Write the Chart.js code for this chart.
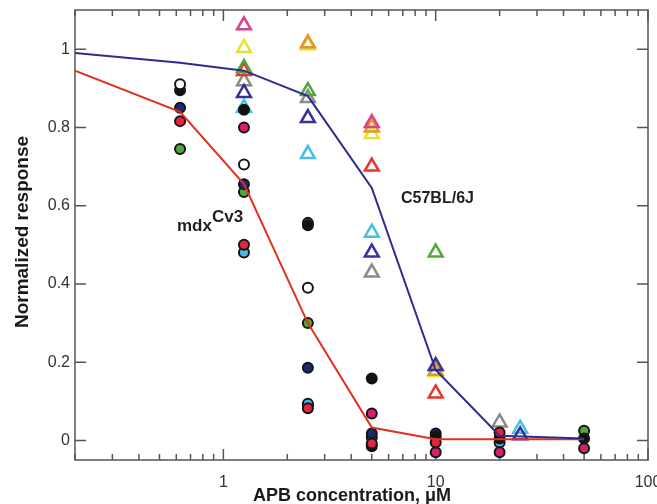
<!DOCTYPE html>
<html>
<head>
<meta charset="utf-8">
<script src="https://cdn.jsdelivr.net/npm/chart.js@4/dist/chart.umd.min.js"></script>
<style>
html,body{margin:0;padding:0;background:#fff;}
#wrap{width:657px;height:504px;position:relative;}
</style>
</head>
<body>
<div id="wrap"><canvas id="c" width="657" height="504"></canvas></div>
<script>
// ---- data ----
const circleConc = [0.625, 1.25, 2.5, 5, 10, 20, 50];   // mdxCv3 (circles), µM
const mdxOpen    = [0.91, 0.705, 0.39, null, null, null, null];
const mdxBlackA  = [0.895, 0.845, 0.55, 0.158, 0.01, 0.005, 0.005];
const mdxBlackB  = [null, null, 0.09, -0.015, null, null, null];
const mdxNavy    = [0.85, 0.655, 0.186, 0.018, 0.018, null, null];
const mdxRed     = [0.816, 0.50, 0.082, -0.008, -0.005, 0.02, null];
const mdxMagenta = [null, 0.80, 0.556, 0.069, -0.03, -0.03, -0.02];
const mdxGreen   = [0.745, 0.635, 0.30, null, null, null, 0.025];
const mdxCyan    = [null, 0.48, 0.094, 0.008, null, -0.005, null];

const triConc    = [1.25, 2.5, 5, 10, 20, 25];           // C57BL/6J (triangles), µM
const c57Magenta = [1.061, null, 0.811, null, null, null];
const c57Yellow  = [1.003, 1.01, 0.783, 0.175, null, null];
const c57Orange  = [null, 1.015, 0.80, 0.178, null, null];
const c57Green   = [0.952, 0.893, null, 0.48, null, null];
const c57Red     = [0.944, null, 0.70, 0.12, null, null];
const c57Gray    = [0.918, 0.875, 0.429, null, 0.046, null];
const c57Navy    = [0.888, 0.824, 0.48, 0.19, null, 0.013];
const c57Cyan    = [0.85, 0.732, 0.531, null, null, 0.03];

const fitConc  = [0.2, 0.625, 1.25, 2.5, 5, 10, 20, 50];
const fitC57   = [0.99, 0.965, 0.945, 0.88, 0.645, 0.18, 0.012, 0.005];
const fitMdx   = [0.945, 0.84, 0.655, 0.30, 0.033, 0.003, 0.003, 0.003];

const xTickValues = [1, 10, 100];
const xTickLabels = ['1', '10', '100'];
const yTickValues = [0, 0.2, 0.4, 0.6, 0.8, 1];
const yTickLabels = ['0', '0.2', '0.4', '0.6', '0.8', '1'];
const xMinorTicks = [0.2,0.3,0.4,0.5,0.6,0.7,0.8,0.9,2,3,4,5,6,7,8,9,20,30,40,50,60,70,80,90];

const xTitle = 'APB concentration, \u03bcM';
const yTitle = 'Normalized response';

// ---- build datasets ----
function pts(xs, ys){ const out=[]; xs.forEach((x,i)=>{ if(ys[i]!==null) out.push({x:x,y:ys[i]}); }); return out; }
function circ(ys, fill){
  return {type:'scatter', data:pts(circleConc, ys), pointStyle:'circle', pointRadius:5, pointHoverRadius:5,
    backgroundColor:fill, borderColor:'#151515', pointBorderWidth:2, borderWidth:2, showLine:false};
}
function tri(ys, col){
  return {type:'scatter', data:pts(triConc, ys), pointStyle:'triangle', pointRadius:8, pointHoverRadius:8,
    backgroundColor:'rgba(0,0,0,0)', borderColor:col, pointBorderWidth:2.5, borderWidth:2.5, showLine:false};
}
function fit(ys, col){
  return {type:'line', data:pts(fitConc, ys), borderColor:col, borderWidth:2, pointRadius:0, fill:false, tension:0};
}

const datasets = [
  fit(fitC57, '#2d2d8f'),
  fit(fitMdx, '#e2301f'),
  circ(mdxOpen, '#ffffff'),
  circ(mdxRed, '#e3263c'),
  circ(mdxBlackA, '#111111'),
  circ(mdxNavy, '#1e2a6e'),
  circ(mdxMagenta, '#d81f6c'),
  circ(mdxGreen, '#4ea93a'),
  circ(mdxCyan, '#46bde9'),
  circ(mdxBlackB, '#111111'),
  tri(c57Navy, '#34339c'),
  tri(c57Magenta, '#d8448c'),
  tri(c57Green, '#52a83a'),
  tri(c57Red, '#e8352a'),
  tri(c57Gray, '#8a8a8a'),
  tri(c57Orange, '#e8922a'),
  tri(c57Yellow, '#e3e32c'),
  tri(c57Cyan, '#47bde8')
];

const FONT = '"Liberation Sans", Arial, Helvetica, sans-serif';

const framePlugin = {
  id:'frame',
  beforeDatasetsDraw(chart){
    const ctx = chart.ctx, a = chart.chartArea, xs = chart.scales.x, ys = chart.scales.y;
    ctx.save();
    ctx.strokeStyle = '#555';
    ctx.lineWidth = 1.5;
    ctx.strokeRect(a.left, a.top, a.right - a.left, a.bottom - a.top);
    ctx.beginPath();
    xMinorTicks.forEach(v=>{
      const px = xs.getPixelForValue(v);
      ctx.moveTo(px, a.bottom); ctx.lineTo(px, a.bottom - 6);
      ctx.moveTo(px, a.top); ctx.lineTo(px, a.top + 6);
    });
    xTickValues.forEach(v=>{
      const px = xs.getPixelForValue(v);
      ctx.moveTo(px, a.bottom); ctx.lineTo(px, a.bottom - 11);
      ctx.moveTo(px, a.top); ctx.lineTo(px, a.top + 11);
    });
    yTickValues.forEach(v=>{
      const py = ys.getPixelForValue(v);
      ctx.moveTo(a.left, py); ctx.lineTo(a.left + 11, py);
      ctx.moveTo(a.right, py); ctx.lineTo(a.right - 11, py);
    });
    ctx.stroke();
    ctx.restore();
  },
  afterDraw(chart){
    const ctx = chart.ctx;
    ctx.save();
    ctx.fillStyle = '#1a1a1a';
    ctx.textAlign = 'center';
    ctx.textBaseline = 'middle';
    ctx.font = 'bold 18px ' + FONT;
    ctx.fillText(xTitle, 352, 496);
    ctx.font = 'bold 19px ' + FONT;
    ctx.translate(23, 232);
    ctx.rotate(-Math.PI/2);
    ctx.fillText(yTitle, 0, 0);
    ctx.restore();

    ctx.save();
    ctx.fillStyle = '#1f1f1f';
    ctx.textAlign = 'left';
    ctx.textBaseline = 'alphabetic';
    ctx.font = 'bold 17px ' + FONT;
    ctx.fillText('mdx', 177, 231);
    const w = ctx.measureText('mdx').width;
    ctx.font = 'bold 17px ' + FONT;
    ctx.fillText('Cv3', 177 + w, 222);
    ctx.font = 'bold 16px ' + FONT;
    ctx.fillText('C57BL/6J', 401, 203);
    ctx.restore();
  }
};

function noPad(s){ s.paddingLeft = 0; s.paddingRight = 0; s.paddingTop = 0; s.paddingBottom = 0; }

new Chart(document.getElementById('c'), {
  data:{datasets:datasets},
  options:{
    responsive:false,
    animation:false,
    events:[],
    layout:{autoPadding:false, padding:{left:0, top:10, right:9, bottom:0}},
    plugins:{legend:{display:false}, tooltip:{enabled:false}},
    scales:{
      x:{
        type:'logarithmic', position:'bottom', min:0.2, max:100,
        grid:{display:false, drawTicks:false},
        border:{display:false},
        afterBuildTicks(s){ s.ticks = xTickValues.map(v=>({value:v})); },
        afterFit(s){ s.height = 44; noPad(s); },
        ticks:{
          autoSkip:false, maxRotation:0, minRotation:0, padding:13,
          color:'#333', font:{family:FONT, size:16},
          callback(v){ const i = xTickValues.indexOf(v); return i>=0 ? xTickLabels[i] : ''; }
        }
      },
      y:{
        type:'linear', position:'left', min:-0.05, max:1.1,
        grid:{display:false, drawTicks:false},
        border:{display:false},
        afterBuildTicks(s){ s.ticks = yTickValues.map(v=>({value:v})); },
        afterFit(s){ s.width = 75; noPad(s); },
        ticks:{
          autoSkip:false, padding:5,
          color:'#333', font:{family:FONT, size:16},
          callback(v){ const i = yTickValues.findIndex(t=>Math.abs(t-v)<1e-9); return i>=0 ? yTickLabels[i] : ''; }
        }
      }
    }
  },
  plugins:[framePlugin]
});
</script>
</body>
</html>
